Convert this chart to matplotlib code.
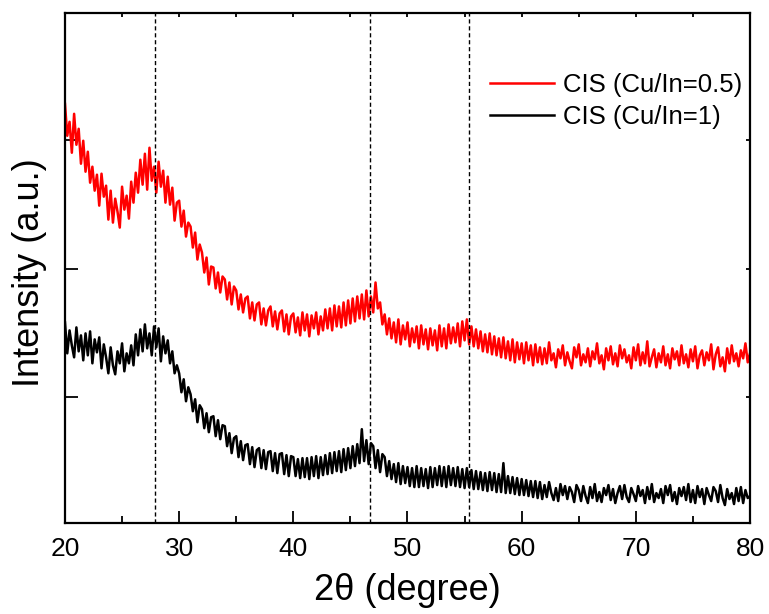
import numpy as np
import matplotlib
matplotlib.use("Agg")
import matplotlib.pyplot as plt

# 2-theta grid (degrees), 0.2 degree steps from 20 to 80
two_theta = np.linspace(20, 80, 301)

# Intensity (a.u.), 5 points per degree
cis_05 = [
    420, 388, 402, 371, 410,   379, 395, 360, 383, 352,   372, 341, 357, 333, 349,
    318, 350, 327, 338, 304,   333, 301, 325, 312, 296,   337, 314, 328, 305, 342,
    321, 351, 331, 364, 339,   370, 334, 376, 343, 357,   331, 362, 337, 353, 321,
    347, 319, 336, 303, 321,   323, 297, 313, 287, 301,   297, 276, 291, 264, 279,
    271, 251, 266, 239, 257,   256, 235, 251, 231, 247,   244, 224, 241, 219, 237,
    233, 214, 229, 211, 225,   227, 205, 221, 203, 219,   221, 199, 215, 198, 213,
    217, 197, 212, 194, 210,   213, 192, 209, 189, 207,   210, 191, 206, 188, 211,
    193, 209, 187, 208, 195,   211, 189, 207, 193, 214,   195, 215, 193, 218, 197,
    217, 196, 221, 198, 223,   200, 225, 202, 227, 205,   229, 204, 233, 207, 227,
    211, 241, 215, 221, 199,   209, 189, 205, 185, 201,   181, 204, 179, 198, 184,
    201, 177, 195, 181, 197,   175, 198, 179, 194, 174,   195, 178, 193, 173, 198,
    177, 195, 175, 199, 180,   196, 181, 200, 177, 202,   183, 204, 179, 197, 177,
    194, 175, 192, 172, 189,   171, 190, 169, 187, 168,   185, 166, 186, 165, 182,
    163, 184, 161, 181, 164,   180, 160, 181, 163, 178,   158, 179, 161, 176, 159,
    175, 160, 181, 163, 170,   156, 174, 165, 178, 158,   171, 162, 155, 176, 166,
    179, 158, 169, 161, 175,   157, 172, 164, 180, 160,   168, 154, 175, 163, 177,
    159, 170, 157, 178, 165,   174, 161, 168, 155, 176,   163, 179, 158, 171, 160,
    182, 157, 166, 174, 156,   170, 161, 177, 158, 169,   155, 175, 164, 172, 158,
    178, 160, 169, 156, 174,   162, 177, 155, 168, 173,   158, 171, 163, 179, 154,
    169, 176, 157, 166, 152,   175, 160, 178, 162, 170,   157, 173, 165, 180, 161,
    170,
]

cis_1 = [
    201, 170, 193, 178, 166,   196, 172, 188, 163, 190,   168, 192, 160, 184, 171,
    186, 155, 179, 166, 150,   176, 158, 149, 172, 160,   180, 152, 170, 160, 178,
    158, 189, 168, 194, 172,   199, 175, 190, 168, 197,   176, 195, 162, 187, 170,
    183, 160, 172, 150, 158,   150, 131, 144, 122, 136,   129, 112, 124, 101, 118,
    114,  95, 110,  91, 106,   107,  87, 103,  84,  98,    97,  77,  90,  70,  85,
     87,  66,  82,  63,  78,    79,  59,  76,  56,  73,    75,  55,  73,  54,  71,
     72,  52,  70,  50,  69,    70,  49,  68,  47,  67,    66,  47,  64,  45,  65,
     46,  65,  44,  66,  47,    67,  45,  66,  48,  68,    49,  70,  50,  71,  52,
     72,  51,  74,  53,  75,    55,  77,  57,  79,  60,    94,  62,  83,  59,  80,
     77,  55,  73,  51,  69,    66,  47,  62,  44,  59,    41,  60,  39,  57,  40,
     56,  37,  55,  36,  57,    36,  55,  37,  54,  35,    56,  36,  55,  38,  57,
     37,  56,  36,  57,  38,    55,  37,  56,  36,  54,    35,  55,  36,  53,  34,
     52,  34,  51,  33,  50,    32,  51,  33,  50,  31,    49,  31,  60,  30,  47,
     30,  46,  29,  45,  28,    44,  28,  43,  27,  42,    26,  42,  25,  41,  24,
     38,  26,  41,  30,  23,    35,  22,  39,  28,  37,    24,  36,  31,  21,  38,
     33,  22,  37,  27,  20,    36,  25,  39,  22,  31,    21,  35,  28,  38,  23,
     34,  20,  30,  37,  24,    38,  26,  21,  35,  29,    22,  37,  27,  33,  20,
     36,  24,  39,  21,  30,    25,  34,  20,  37,  28,    38,  22,  31,  19,  35,
     27,  36,  23,  39,  21,    33,  20,  37,  26,  34,    19,  35,  28,  22,  36,
     32,  21,  38,  25,  18,    34,  24,  30,  19,  35,    22,  36,  20,  33,  25,
     27,
]

series_labels = ["CIS (Cu/In=0.5)", "CIS (Cu/In=1)"]
reference_peaks = [27.9, 46.7, 55.4]
x_ticks = [20, 30, 40, 50, 60, 70, 80]

plt.rcParams['font.family'] = ['Liberation Sans', 'DejaVu Sans']

fig = plt.figure(figsize=(7.69, 6.14), dpi=100)
ax = fig.add_axes([0.0845, 0.1482, 0.8908, 0.8306])

ax.plot(two_theta, cis_05, color='#ff0000', lw=1.8, label=series_labels[0])
ax.plot(two_theta, cis_1, color='black', lw=1.8, label=series_labels[1])

for p in reference_peaks:
    ax.axvline(p, color='black', lw=1.0, linestyle=(0, (3, 2)))

ax.set_xlim(20, 80)
ax.set_ylim(0, 511)
ax.set_xticks(x_ticks)
ax.set_xticks(np.arange(25, 80, 10), minor=True)
ax.set_yticks([126, 255, 384])
ax.set_yticklabels([])

ax.tick_params(axis='x', which='major', direction='in', length=9, width=1.3,
               labelsize=19, pad=10, top=True)
ax.tick_params(axis='x', which='minor', direction='in', length=5, width=1.3, top=True)
ax.tick_params(axis='y', which='major', direction='in', length=9, width=1.3, right=True)
# smaller ticks on the top and right spines
for t in ax.xaxis.get_major_ticks() + ax.xaxis.get_minor_ticks() + ax.yaxis.get_major_ticks():
    t.tick2line.set_markersize(3)
for s in ax.spines.values():
    s.set_linewidth(1.6)

ax.set_xlabel('2θ (degree)', fontsize=26, labelpad=9)
ax.set_ylabel('Intensity (a.u.)', fontsize=26)
ax.yaxis.set_label_coords(-0.026, 0.49)

ax.legend(loc='upper right', bbox_to_anchor=(1.015, 0.917), frameon=False,
          fontsize=18.5, handlelength=2.5, handletextpad=0.35, labelspacing=0.3,
          borderaxespad=0.3)

fig.savefig('out.png', dpi=100)
